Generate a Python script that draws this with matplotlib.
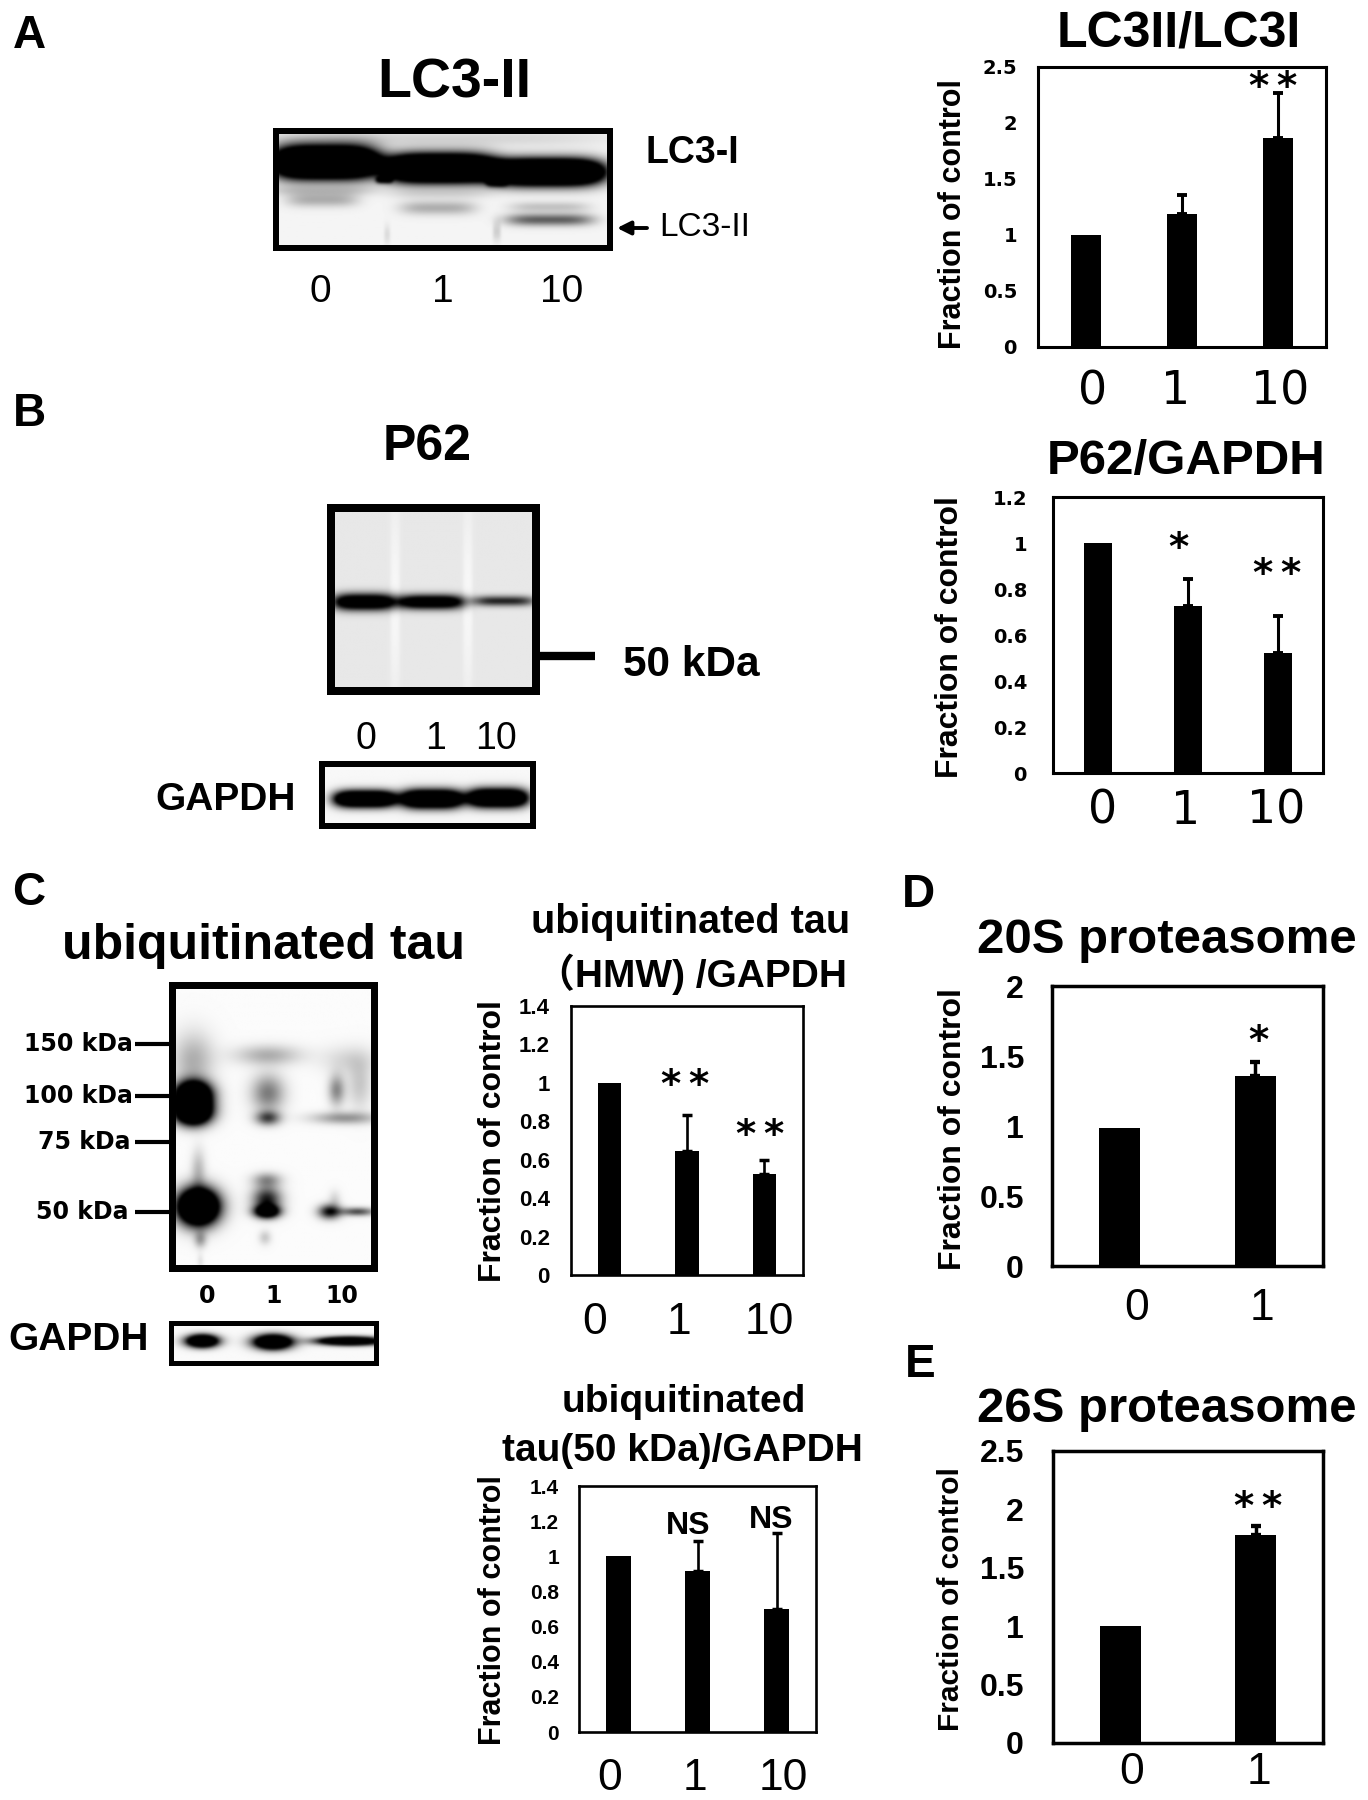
import numpy as np
import matplotlib
matplotlib.use('Agg')
import matplotlib.pyplot as plt

W, H = 1368, 1800
SANS = ['Liberation Sans', 'DejaVu Sans']
WIDE = 'DejaVu Sans'
plt.rcParams['font.family'] = SANS

# ------------------------------------- bar values
doses = ['0', '1', '10']
doses_short = ['0', '1']

lc3_vals = [1.0, 1.187, 1.865]
lc3_errs = [0, 0.17, 0.40]
lc3_ticks = ['0', '0.5', '1', '1.5', '2', '2.5']

p62_vals = [1.0, 0.727, 0.522]
p62_errs = [0, 0.116, 0.162]
p62_ticks = ['0', '0.2', '0.4', '0.6', '0.8', '1', '1.2']

hmw_vals = [1.0, 0.644, 0.528]
hmw_errs = [0, 0.188, 0.073]
kda50_vals = [1.0, 0.916, 0.702]
kda50_errs = [0, 0.169, 0.431]
tau_ticks = ['0', '0.2', '0.4', '0.6', '0.8', '1', '1.2', '1.4']

s20_vals = [0.989, 1.36]
s20_errs = [0, 0.098]
s20_ticks = ['0', '0.5', '1', '1.5', '2']
s26_vals = [1.0, 1.78]
s26_errs = [0, 0.08]
s26_ticks = ['0', '0.5', '1', '1.5', '2', '2.5']

# ------------------------------------- blot bands: x, y, half width, half height, density
lc3_bands = [(325, 162, 52, 15, 3), (440, 168, 54, 13, 3), (547, 172, 56, 12, 3),
             (384, 180, 8, 3, 1), (497, 182, 10, 4, 1),
             (322, 200, 36, 7, 0.28), (438, 208, 38, 7, 0.28), (550, 220, 44, 6, 0.6),
             (550, 207, 40, 5, 0.2), (320, 191, 55, 5, 0.15), (440, 194, 50, 5, 0.1),
             (440, 138, 170, 8, 0.12), (387, 235, 3, 10, 0.1), (497, 232, 4, 10, 0.15)]
p62_bands = [(364, 602, 31, 8, 1.5), (431, 602, 34, 7, 1.4), (504, 601, 31, 5, 0.8),
             (395, 600, 5, 95, -0.06), (468, 600, 5, 95, -0.06)]
gapdh_b_bands = [(365, 799, 31, 8, 2.2), (432, 799, 31, 9, 2.2), (498, 798, 30, 9, 2.2)]
tau_bands = [(193, 1095, 17, 13, 2.6), (193, 1112, 17, 12, 2.6), (198, 1207, 19, 17, 3.0),
             (193, 1060, 20, 27, 0.3), (198, 1170, 7, 20, 0.25), (200, 1240, 6, 8, 0.35),
             (200, 1262, 3, 8, 0.1),
             (268, 1055, 32, 10, 0.3), (268, 1093, 16, 18, 0.5), (268, 1118, 12, 7, 0.7),
             (267, 1200, 14, 13, 0.9), (267, 1212, 12, 6, 1.6), (267, 1180, 14, 7, 0.4),
             (265, 1238, 6, 7, 0.2),
             (337, 1090, 8, 15, 0.45), (360, 1085, 12, 24, 0.2), (345, 1118, 32, 6, 0.4),
             (350, 1060, 27, 14, 0.15), (330, 1212, 11, 7, 0.95), (358, 1212, 17, 4, 0.7),
             (335, 1200, 6, 9, 0.15)]
gapdh_c_bands = [(202, 1341, 15, 6, 2.5), (273, 1342, 18, 7, 2.5), (350, 1341, 30, 4, 2.5)]
blur_kernel = [0.06, 0.24, 0.4, 0.24, 0.06]

fig = plt.figure(figsize=(W / 100, H / 100), dpi=100, facecolor='white')


def put(x, y, s, size, weight='bold', rot=0, ha='center', family=None):
    fig.text(x / W, 1 - y / H, s, fontsize=size, fontweight=weight, rotation=rot,
             ha=ha, va='center', family=family or SANS, color='black')


def stars(x, y, s):
    # asterisks sit high in the text box, so the caller gives the box centre
    put(x, y, s, 28, 'bold', family=WIDE)


def blot(x0, x1, y0, y1, bands, bg, lw, power=4):
    ax = fig.add_axes([x0 / W, 1 - y1 / H, (x1 - x0) / W, (y1 - y0) / H])
    xx, yy = np.meshgrid(np.arange(x0, x1 + 1), np.arange(y0, y1 + 1))
    dens = np.full(xx.shape, float(bg))
    for cx, cy, sx, sy, d in bands:
        dens += d * np.exp(-np.abs((xx - cx) / sx) ** power - ((yy - cy) / sy) ** 2)
    dens = np.clip(dens, 0, 1)
    # the scans are soft, so smooth a little along both directions
    dens = np.apply_along_axis(np.convolve, 0, dens, blur_kernel, mode='same')
    dens = np.apply_along_axis(np.convolve, 1, dens, blur_kernel, mode='same')
    ax.imshow(1 - dens, cmap='gray', vmin=0, vmax=1, aspect='auto',
              extent=[x0, x1, y1, y0], interpolation='bilinear')
    ax.set_xticks([])
    ax.set_yticks([])
    for sp in ax.spines.values():
        sp.set_linewidth(lw * 0.72)
    return ax


def bars(x0, x1, y0, y1, vals, errs, ticks, ymax, tick_right, tick_font, tick_size, line=2.2):
    ax = fig.add_axes([x0 / W, 1 - y1 / H, (x1 - x0) / W, (y1 - y0) / H])
    pos = np.arange(len(vals))
    ax.bar(pos, vals, width=0.305, color='black')
    for p, v, e in zip(pos, vals, errs):
        if e > 0:
            ax.errorbar(p, v, yerr=[[0], [e]], color='black', elinewidth=line,
                        capsize=3.6, capthick=line + 0.6)
    ax.set_xlim(-0.5, len(vals) - 0.5)
    ax.set_ylim(0, ymax)
    ax.set_xticks([])
    ax.set_yticks([float(t) for t in ticks])
    ax.set_yticklabels(ticks, fontsize=tick_size, fontweight='bold', family=tick_font)
    ax.tick_params(axis='y', length=0, pad=(x0 - tick_right) * 0.72)
    for sp in ax.spines.values():
        sp.set_linewidth(line)
    return ax


# ------------------------------------- panel letters
for letter, lx, ly in [('A', 29, 36), ('B', 29, 414), ('C', 29, 893), ('D', 918, 895), ('E', 920, 1365)]:
    put(lx, ly, letter, 33)

# ------------------------------------- A
put(454, 84, 'LC3-II', 40)
blot(276, 610, 131, 248, lc3_bands, 0.04, 6)
put(692, 153, 'LC3-I', 27)
put(705, 228, 'LC3-II', 24, 'normal')
fig.add_artist(matplotlib.patches.FancyArrowPatch(
    (647 / W, 1 - 228 / H), (617 / W, 1 - 228 / H), transform=fig.transFigure,
    arrowstyle='-|>', mutation_scale=20, lw=2.8, color='black', shrinkA=0, shrinkB=0))
for lab, lx in zip(doses, [320, 443, 562]):
    put(lx, 292, lab, 28, 'normal')

bars(1038, 1326, 67, 347, lc3_vals, lc3_errs, lc3_ticks, 2.5, 1017, WIDE, 14)
put(1179, 33, 'LC3II/LC3I', 36)
put(953, 214, 'Fraction of control', 22, rot=90)
stars(1273, 88, '*\u2009*')
for lab, lx in zip(doses, [1093, 1176, 1280]):
    put(lx, 392, lab, 33, 'normal', family=WIDE)

# ------------------------------------- B
put(427, 447, 'P62', 36)
blot(331, 536, 508, 691, p62_bands, 0.09, 8)
fig.add_artist(plt.Line2D([538 / W, 595 / W], [1 - 656 / H] * 2, color='black', lw=6,
                          transform=fig.transFigure, solid_capstyle='butt'))
put(691, 665, '50 kDa', 30.5)
for lab, lx in zip(doses, [366, 436, 496]):
    put(lx, 739, lab, 27, 'normal')
blot(322, 533, 764, 826, gapdh_b_bands, 0.03, 6)
put(226, 800, 'GAPDH', 28)

bars(1053, 1323, 497, 773, p62_vals, p62_errs, p62_ticks, 1.2, 1027, WIDE, 14)
put(1186, 462, 'P62/GAPDH', 35.5)
put(950, 637, 'Fraction of control', 23, rot=90)
stars(1178, 549, '*')
stars(1277, 575, '*\u2009*')
for lab, lx in zip(doses, [1103, 1186, 1276]):
    put(lx, 811, lab, 33, 'normal', family=WIDE)

# ------------------------------------- C
put(263, 946, 'ubiquitinated tau', 36)
blot(172, 374, 985, 1268, tau_bands, 0.015, 7, power=2)
for lab, tx, ty in [('150 kDa', 133, 1044), ('100 kDa', 133, 1096), ('75 kDa', 130, 1142), ('50 kDa', 128, 1212)]:
    put(tx, ty, lab, 17, ha='right', family=WIDE)
    fig.add_artist(plt.Line2D([135 / W, 169 / W], [1 - ty / H] * 2, color='black', lw=3,
                              transform=fig.transFigure, solid_capstyle='butt'))
for lab, lx in zip(doses, [207, 274, 342]):
    put(lx, 1296, lab, 17, family=WIDE)
blot(171, 376, 1323, 1363, gapdh_c_bands, 0.02, 5, power=2)
put(79, 1340, 'GAPDH', 28)

bars(571, 803, 1006, 1275, hmw_vals, hmw_errs, tau_ticks, 1.4, 550, SANS, 16, line=1.9)
put(691, 922, 'ubiquitinated tau', 28.5)
put(691, 974, '（HMW) /GAPDH', 28, family=['Liberation Sans', 'Noto Sans CJK SC'])
put(493, 1141, 'Fraction of control', 23, rot=90)
stars(685, 1086, '*\u2009*')
stars(760, 1136, '*\u2009*')
for lab, lx in zip(doses, [595, 679, 769]):
    put(lx, 1323, lab, 32, 'normal')

bars(579, 816, 1486, 1732, kda50_vals, kda50_errs, tau_ticks, 1.4, 559, SANS, 15, line=1.9)
put(684, 1402, 'ubiquitinated', 28)
put(682, 1451, 'tau(50 kDa)/GAPDH', 28)
put(493, 1610, 'Fraction of control', 22, rot=90)
put(688, 1526, 'NS', 23)
put(771, 1520, 'NS', 23)
for lab, lx in zip(doses, [610, 695, 783]):
    put(lx, 1778, lab, 32, 'normal')

# ------------------------------------- D
bars(1052, 1323, 986, 1266, s20_vals, s20_errs, s20_ticks, 2, 1024, SANS, 23, line=2.5)
put(1167, 940, '20S proteasome', 35.4)
put(953, 1129, 'Fraction of control', 23, rot=90)
stars(1258, 1042, '*')
for lab, lx in zip(doses_short, [1137, 1262]):
    put(lx, 1309, lab, 32, 'normal')

# ------------------------------------- E
bars(1053, 1323, 1451, 1743, s26_vals, s26_errs, s26_ticks, 2.5, 1024, SANS, 23, line=2.5)
put(1167, 1409, '26S proteasome', 35.4)
put(951, 1599, 'Fraction of control', 21.5, rot=90)
stars(1258, 1508, '*\u2009*')
for lab, lx in zip(doses_short, [1132, 1259]):
    put(lx, 1772, lab, 32, 'normal')

fig.savefig('out.png', dpi=100)
